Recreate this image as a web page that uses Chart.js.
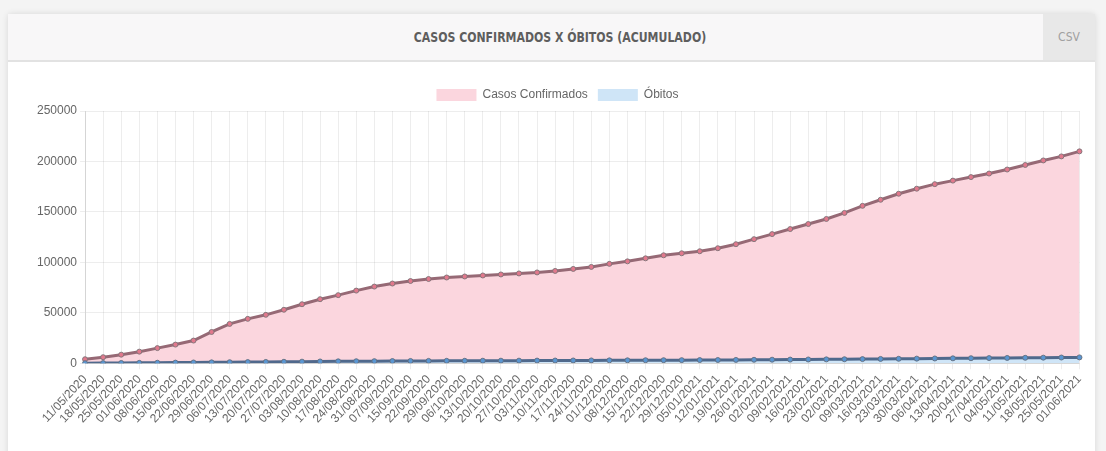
<!DOCTYPE html>
<html>
<head>
<meta charset="utf-8">
<script src="https://cdn.jsdelivr.net/npm/chart.js@4/dist/chart.umd.min.js"></script>
<style>
  body{margin:0;background:#f4f4f4;width:1106px;height:451px;overflow:hidden;font-family:"Liberation Sans",Arial,sans-serif}
  .card{position:absolute;left:8px;top:14px;width:1087px;height:450px;background:#fff;box-shadow:0 0 6px rgba(0,0,0,0.12);border-radius:3px}
  .head{position:absolute;left:0;top:0;width:1087px;height:46px;background:#f8f7f8;border-bottom:2px solid #e2e2e2}
  .title{position:absolute;left:0;top:0;width:1104px;height:46px;line-height:46px;text-align:center;font-family:"DejaVu Sans Condensed",sans-serif;font-weight:bold;font-size:13.5px;color:#5e5e5e;transform:scaleX(0.9)}
  .csv{position:absolute;right:0;top:0;width:52px;height:46px;line-height:46px;text-align:center;background:#e8e8e8;font-family:"DejaVu Sans Condensed",sans-serif;font-size:12px;color:#a0a0a0}
  .wrap{position:absolute;left:2px;top:48px;width:1083px;height:385px}
</style>
</head>
<body>
<div class="card">
  <div class="head"><div class="title">CASOS CONFIRMADOS X ÓBITOS (ACUMULADO)</div><div class="csv">CSV</div></div>
  <div class="wrap"><canvas id="grafico"></canvas></div>
</div>
<script>
var datas=['11/05/2020','18/05/2020','25/05/2020','01/06/2020','08/06/2020','15/06/2020','22/06/2020','29/06/2020',
  '06/07/2020','13/07/2020','20/07/2020','27/07/2020','03/08/2020','10/08/2020','17/08/2020','24/08/2020','31/08/2020',
  '07/09/2020','15/09/2020','22/09/2020','29/09/2020','06/10/2020','13/10/2020','20/10/2020','27/10/2020',
  '03/11/2020','10/11/2020','17/11/2020','24/11/2020','01/12/2020','08/12/2020','15/12/2020','22/12/2020','29/12/2020',
  '05/01/2021','12/01/2021','19/01/2021','26/01/2021','02/02/2021','09/02/2021','16/02/2021','23/02/2021',
  '02/03/2021','09/03/2021','16/03/2021','23/03/2021','30/03/2021','06/04/2021','13/04/2021','20/04/2021','27/04/2021',
  '04/05/2021','11/05/2021','18/05/2021','25/05/2021','01/06/2021'];
var casos=[4000,6000,8500,11500,15000,18500,22500,31000,39000,44000,48000,53000,58500,63500,67500,72000,76000,
  79000,81500,83500,85000,86000,87000,88000,89000,90000,91500,93500,95500,98500,101000,104000,107000,109000,
  111000,114000,118000,123000,128000,133000,138000,143000,149000,156000,162000,168000,173000,177500,181000,184500,188000,
  192000,196500,201000,205000,210000];
var obitos=[60,180,300,420,520,640,760,900,1050,1180,1320,1470,1600,1760,1880,2000,2100,
  2200,2280,2350,2410,2460,2500,2550,2590,2640,2690,2740,2800,2860,2920,2990,3050,3100,
  3170,3240,3330,3430,3530,3630,3740,3860,3990,4130,4280,4430,4580,4730,4870,5000,5130,
  5260,5400,5540,5680,5820];
var yTicks=[0,50000,100000,150000,200000,250000];

var fonte={family:'Liberation Sans',size:12};
var ctx=document.getElementById('grafico');
var chart=new Chart(ctx,{
  type:'line',
  data:{
    labels:datas,
    datasets:[
      {label:'Casos Confirmados',data:casos,order:1,fill:true,backgroundColor:'rgba(251,214,222,1)',borderColor:'rgba(150,105,117,1)',borderWidth:3,
        pointRadius:2.5,pointBackgroundColor:'rgba(225,120,140,1)',pointBorderColor:'rgba(125,115,120,0.9)',pointBorderWidth:1,tension:0},
      {label:'Óbitos',data:obitos,order:0,fill:true,backgroundColor:'rgba(207,229,247,1)',borderColor:'rgba(80,105,140,1)',borderWidth:3,
        pointRadius:2.5,pointBackgroundColor:'rgba(90,150,210,1)',pointBorderColor:'rgba(100,110,125,0.9)',pointBorderWidth:1,tension:0}
    ]},
  options:{
    responsive:true,maintainAspectRatio:false,animation:false,
    layout:{padding:{left:24,right:12,top:17,bottom:18}},
    plugins:{
      legend:{labels:{boxWidth:40,boxHeight:12,color:'#666',font:fonte,
        sort:function(a,b){return a.datasetIndex-b.datasetIndex},
        generateLabels:function(c){
          var itens=Chart.defaults.plugins.legend.labels.generateLabels(c);
          itens.forEach(function(i){i.strokeStyle=i.fillStyle;i.lineWidth=0});
          return itens;
        }}},
      tooltip:{enabled:false}
    },
    scales:{
      x:{grid:{color:'rgba(0,0,0,0.07)',tickLength:6},
        ticks:{autoSkip:false,minRotation:47,maxRotation:47,color:'#666',font:fonte}},
      y:{min:0,max:250000,grid:{color:'rgba(0,0,0,0.07)',tickLength:5},
        afterBuildTicks:function(s){s.ticks=yTicks.map(function(v){return {value:v}})},
        ticks:{color:'#666',font:fonte,callback:function(v){return String(v)}}}
    }
  }
});
</script>
</body>
</html>
